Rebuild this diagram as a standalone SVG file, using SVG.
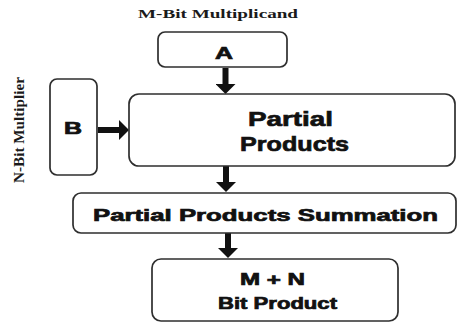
<svg xmlns="http://www.w3.org/2000/svg" width="457" height="324" viewBox="0 0 457 324">
  <defs>
    <style>
      .box { fill: #ffffff; stroke: #2e2e2e; stroke-width: 1.7; }
      .lbl { font-family: "Liberation Sans", Arial, sans-serif; font-weight: bold; fill: #111111; stroke: #111111; stroke-width: 0.7; text-anchor: middle; }
      .cap { font-family: "Liberation Serif", "Times New Roman", serif; font-weight: bold; fill: #1a1a1a; text-anchor: middle; }
      .flow { stroke: #111111; stroke-width: 6; fill: none; marker-end: url(#head); }
    </style>
    <marker id="head" markerUnits="userSpaceOnUse" markerWidth="10" markerHeight="20" viewBox="0 0 10 20" refX="0" refY="10" orient="auto">
      <path d="M0,0 L10,10 L0,20 Z" fill="#111111"/>
    </marker>
  </defs>

  <rect width="457" height="324" fill="#ffffff"/>

  <!-- input captions -->
  <text class="cap" x="218" y="18" font-size="13" textLength="160" lengthAdjust="spacingAndGlyphs">M-Bit Multiplicand</text>
  <text class="cap" transform="translate(24,130) rotate(-90)" x="0" y="0" font-size="15.5" textLength="106" lengthAdjust="spacingAndGlyphs">N-Bit Multiplier</text>

  <!-- connectors -->
  <g id="connectors">
    <line class="flow" x1="225.5" y1="68" x2="225.5" y2="84"/>
    <line class="flow" x1="98" y1="130" x2="119" y2="130"/>
    <line class="flow" x1="226" y1="166" x2="226" y2="182"/>
    <line class="flow" x1="228" y1="233" x2="228" y2="248"/>
  </g>

  <g id="node-a">
    <rect class="box" x="158" y="32" width="129" height="35" rx="7"/>
    <text class="lbl" x="224" y="58.5" font-size="17" textLength="18" lengthAdjust="spacingAndGlyphs">A</text>
  </g>

  <g id="node-b">
    <rect class="box" x="50" y="79" width="47" height="96" rx="7"/>
    <text class="lbl" x="73" y="133.5" font-size="16" textLength="18" lengthAdjust="spacingAndGlyphs">B</text>
  </g>

  <g id="node-partial-products">
    <rect class="box" x="129" y="94" width="326" height="72" rx="10"/>
    <text class="lbl" x="290.5" y="126" font-size="21" textLength="85" lengthAdjust="spacingAndGlyphs">Partial</text>
    <text class="lbl" x="294.5" y="151" font-size="21" textLength="109" lengthAdjust="spacingAndGlyphs">Products</text>
  </g>

  <g id="node-summation">
    <rect class="box" x="73" y="193" width="383" height="40" rx="8"/>
    <text class="lbl" x="265.5" y="221" font-size="17" textLength="345" lengthAdjust="spacingAndGlyphs">Partial Products Summation</text>
  </g>

  <g id="node-product">
    <rect class="box" x="152" y="259" width="246" height="62" rx="9"/>
    <text class="lbl" x="272.5" y="284.5" font-size="16" textLength="65" lengthAdjust="spacingAndGlyphs">M + N</text>
    <text class="lbl" x="277.5" y="308.5" font-size="16" textLength="119" lengthAdjust="spacingAndGlyphs">Bit Product</text>
  </g>
</svg>
